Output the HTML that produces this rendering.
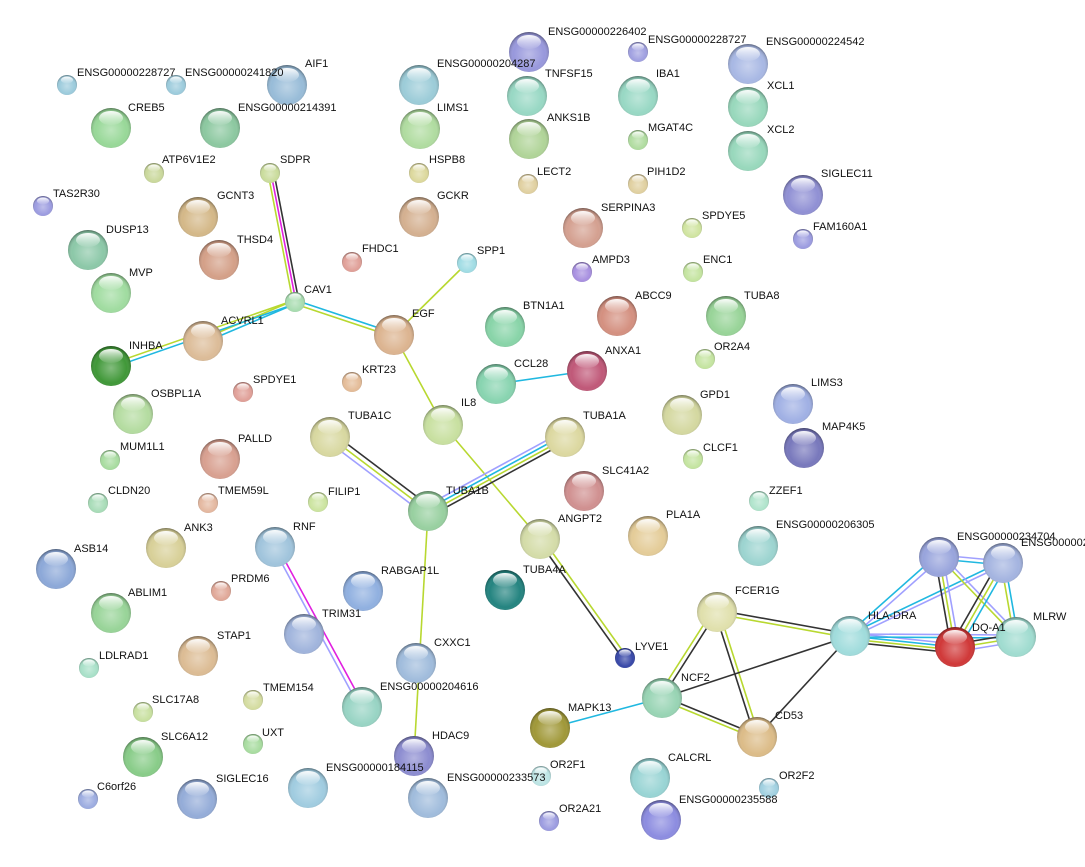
<!DOCTYPE html>
<html><head><meta charset="utf-8"><style>
html,body{margin:0;padding:0;background:#fff;}
svg{display:block;}
text{font-family:"Liberation Sans",sans-serif;font-size:11px;fill:#111;}
</style></head><body>
<svg width="1085" height="867" viewBox="0 0 1085 867" xmlns="http://www.w3.org/2000/svg">
<defs>
<radialGradient id="sh" cx="50%" cy="55%" r="55%">
<stop offset="0" stop-color="#fff" stop-opacity="0.35"/>
<stop offset="0.7" stop-color="#fff" stop-opacity="0"/>
<stop offset="0.9" stop-color="#000" stop-opacity="0.15"/>
<stop offset="1" stop-color="#000" stop-opacity="0.45"/>
</radialGradient>
<linearGradient id="gl" x1="0" y1="0" x2="0" y2="1">
<stop offset="0" stop-color="#fff" stop-opacity="0.95"/>
<stop offset="1" stop-color="#fff" stop-opacity="0.05"/>
</linearGradient>
</defs>
<g fill="none" stroke-width="1.6">
<!-- SDPR-CAV1 -->
<line x1="268" y1="173" x2="293" y2="302" stroke="#b8d830"/>
<line x1="271" y1="173" x2="296" y2="302" stroke="#e020e0"/>
<line x1="274" y1="173" x2="299" y2="302" stroke="#333"/>
<!-- CAV1-ACVRL1 -->
<line x1="295" y1="300" x2="203" y2="339" stroke="#b8d830"/>
<line x1="295" y1="304" x2="203" y2="343" stroke="#20b8e0"/>
<line x1="295" y1="300" x2="111" y2="364" stroke="#b8d830"/>
<line x1="295" y1="304" x2="111" y2="368" stroke="#20b8e0"/>
<!-- CAV1-EGF -->
<line x1="295" y1="300" x2="394" y2="333" stroke="#20b8e0"/>
<line x1="295" y1="304" x2="394" y2="337" stroke="#b8d830"/>
<!-- EGF-SPP1 -->
<line x1="394" y1="335" x2="467" y2="263" stroke="#b8d830"/>
<!-- EGF-IL8-ANGPT2 -->
<line x1="394" y1="335" x2="443" y2="425" stroke="#b8d830"/>
<line x1="443" y1="425" x2="540" y2="539" stroke="#b8d830"/>
<!-- CCL28-ANXA1 -->
<line x1="496" y1="384" x2="587" y2="371" stroke="#20b8e0"/>
<!-- TUBA1C-TUBA1B -->
<line x1="326" y1="440" x2="424" y2="514" stroke="#a0a0ff"/>
<line x1="330" y1="437" x2="428" y2="511" stroke="#b8d830"/>
<line x1="334" y1="434" x2="432" y2="508" stroke="#333"/>
<!-- TUBA1A-TUBA1B -->
<line x1="562" y1="432" x2="426" y2="506" stroke="#a0a0ff"/>
<line x1="564" y1="435" x2="428" y2="509" stroke="#20b8e0"/>
<line x1="566" y1="438" x2="430" y2="512" stroke="#b8d830"/>
<line x1="568" y1="441" x2="432" y2="515" stroke="#333"/>
<!-- TUBA1B-CXXC1-HDAC9 -->
<line x1="428" y1="511" x2="414" y2="756" stroke="#b8d830"/>
<!-- ANGPT2-LYVE1 -->
<line x1="538" y1="540" x2="623" y2="659" stroke="#333"/>
<line x1="542" y1="538" x2="627" y2="657" stroke="#b8d830"/>
<!-- RNF-TRIM31-ENSG204616 -->
<line x1="273" y1="547" x2="360" y2="708" stroke="#a0a0ff"/>
<line x1="277" y1="546" x2="364" y2="706" stroke="#e020e0"/>
<!-- FCER1G group -->
<line x1="717" y1="612" x2="662" y2="698" stroke="#333"/>
<line x1="713" y1="610" x2="658" y2="696" stroke="#b8d830"/>
<line x1="715" y1="612" x2="755" y2="737" stroke="#333"/>
<line x1="719" y1="611" x2="759" y2="736" stroke="#b8d830"/>
<line x1="717" y1="610" x2="850" y2="634" stroke="#333"/>
<line x1="717" y1="614" x2="850" y2="638" stroke="#b8d830"/>
<line x1="662" y1="698" x2="850" y2="636" stroke="#333"/>
<line x1="662" y1="696" x2="757" y2="735" stroke="#333"/>
<line x1="662" y1="700" x2="757" y2="739" stroke="#b8d830"/>
<line x1="550" y1="728" x2="662" y2="698" stroke="#20b8e0"/>
<line x1="757" y1="737" x2="850" y2="636" stroke="#333"/>
<!-- HLA cluster -->
<line x1="850" y1="633" x2="955" y2="644" stroke="#a0a0ff"/>
<line x1="850" y1="636" x2="955" y2="647" stroke="#20b8e0"/>
<line x1="850" y1="639" x2="955" y2="650" stroke="#b8d830"/>
<line x1="850" y1="642" x2="955" y2="653" stroke="#333"/>
<line x1="848" y1="634" x2="937" y2="555" stroke="#20b8e0"/>
<line x1="852" y1="637" x2="941" y2="558" stroke="#a0a0ff"/>
<line x1="850" y1="634" x2="1003" y2="561" stroke="#20b8e0"/>
<line x1="850" y1="638" x2="1003" y2="565" stroke="#a0a0ff"/>
<line x1="850" y1="634" x2="1016" y2="635" stroke="#a0a0ff"/>
<line x1="850" y1="637" x2="1016" y2="638" stroke="#20b8e0"/>
<line x1="935" y1="557" x2="951" y2="647" stroke="#333"/>
<line x1="939" y1="557" x2="955" y2="647" stroke="#b8d830"/>
<line x1="943" y1="557" x2="959" y2="647" stroke="#a0a0ff"/>
<line x1="939" y1="555" x2="1003" y2="561" stroke="#a0a0ff"/>
<line x1="939" y1="559" x2="1003" y2="565" stroke="#20b8e0"/>
<line x1="939" y1="557" x2="1016" y2="637" stroke="#b8d830"/>
<line x1="942" y1="555" x2="1019" y2="635" stroke="#a0a0ff"/>
<line x1="999" y1="561" x2="951" y2="645" stroke="#333"/>
<line x1="1003" y1="563" x2="955" y2="647" stroke="#b8d830"/>
<line x1="1007" y1="565" x2="959" y2="649" stroke="#20b8e0"/>
<line x1="1001" y1="563" x2="1014" y2="637" stroke="#b8d830"/>
<line x1="1005" y1="563" x2="1018" y2="637" stroke="#20b8e0"/>
<line x1="955" y1="644" x2="1016" y2="634" stroke="#333"/>
<line x1="955" y1="648" x2="1016" y2="638" stroke="#b8d830"/>
<line x1="955" y1="652" x2="1016" y2="642" stroke="#a0a0ff"/>
</g>
<g id="nodes">
<!-- helper pattern: colored circle, shade, gloss -->
<g><circle cx="67" cy="85" r="10" fill="#9ccbdc"/><circle cx="67" cy="85" r="10" fill="url(#sh)"/><ellipse cx="67" cy="80" rx="6" ry="3.5" fill="url(#gl)"/></g>
<g><circle cx="176" cy="85" r="10" fill="#9ccbdc"/><circle cx="176" cy="85" r="10" fill="url(#sh)"/><ellipse cx="176" cy="80" rx="6" ry="3.5" fill="url(#gl)"/></g>
<g><circle cx="287" cy="85" r="20" fill="#98bcd8"/><circle cx="287" cy="85" r="20" fill="url(#sh)"/><ellipse cx="287" cy="75" rx="12" ry="7" fill="url(#gl)"/></g>
<g><circle cx="111" cy="128" r="20" fill="#98d898"/><circle cx="111" cy="128" r="20" fill="url(#sh)"/><ellipse cx="111" cy="118" rx="12" ry="7" fill="url(#gl)"/></g>
<g><circle cx="220" cy="128" r="20" fill="#8cc8a0"/><circle cx="220" cy="128" r="20" fill="url(#sh)"/><ellipse cx="220" cy="118" rx="12" ry="7" fill="url(#gl)"/></g>
<g><circle cx="154" cy="173" r="10" fill="#cad89c"/><circle cx="154" cy="173" r="10" fill="url(#sh)"/><ellipse cx="154" cy="168" rx="6" ry="3.5" fill="url(#gl)"/></g>
<g><circle cx="270" cy="173" r="10" fill="#cadc9c"/><circle cx="270" cy="173" r="10" fill="url(#sh)"/><ellipse cx="270" cy="168" rx="6" ry="3.5" fill="url(#gl)"/></g>
<g><circle cx="43" cy="206" r="10" fill="#9c9ce0"/><circle cx="43" cy="206" r="10" fill="url(#sh)"/><ellipse cx="43" cy="201" rx="6" ry="3.5" fill="url(#gl)"/></g>
<g><circle cx="198" cy="217" r="20" fill="#d4b888"/><circle cx="198" cy="217" r="20" fill="url(#sh)"/><ellipse cx="198" cy="207" rx="12" ry="7" fill="url(#gl)"/></g>
<g><circle cx="219" cy="260" r="20" fill="#d4a088"/><circle cx="219" cy="260" r="20" fill="url(#sh)"/><ellipse cx="219" cy="250" rx="12" ry="7" fill="url(#gl)"/></g>
<g><circle cx="88" cy="250" r="20" fill="#8cc8a8"/><circle cx="88" cy="250" r="20" fill="url(#sh)"/><ellipse cx="88" cy="240" rx="12" ry="7" fill="url(#gl)"/></g>
<g><circle cx="111" cy="293" r="20" fill="#a0dca0"/><circle cx="111" cy="293" r="20" fill="url(#sh)"/><ellipse cx="111" cy="283" rx="12" ry="7" fill="url(#gl)"/></g>
<g><circle cx="352" cy="262" r="10" fill="#e0a098"/><circle cx="352" cy="262" r="10" fill="url(#sh)"/><ellipse cx="352" cy="257" rx="6" ry="3.5" fill="url(#gl)"/></g>
<g><circle cx="467" cy="263" r="10" fill="#a0dce4"/><circle cx="467" cy="263" r="10" fill="url(#sh)"/><ellipse cx="467" cy="258" rx="6" ry="3.5" fill="url(#gl)"/></g>
<g><circle cx="295" cy="302" r="10" fill="#a8dcb0"/><circle cx="295" cy="302" r="10" fill="url(#sh)"/><ellipse cx="295" cy="297" rx="6" ry="3.5" fill="url(#gl)"/></g>
<g><circle cx="203" cy="341" r="20" fill="#dcbc98"/><circle cx="203" cy="341" r="20" fill="url(#sh)"/><ellipse cx="203" cy="331" rx="12" ry="7" fill="url(#gl)"/></g>
<g><circle cx="394" cy="335" r="20" fill="#dcb490"/><circle cx="394" cy="335" r="20" fill="url(#sh)"/><ellipse cx="394" cy="325" rx="12" ry="7" fill="url(#gl)"/></g>
<g><circle cx="111" cy="366" r="20" fill="#409838"/><circle cx="111" cy="366" r="20" fill="url(#sh)"/><ellipse cx="111" cy="356" rx="12" ry="7" fill="url(#gl)"/></g>
<g><circle cx="243" cy="392" r="10" fill="#e0a098"/><circle cx="243" cy="392" r="10" fill="url(#sh)"/><ellipse cx="243" cy="387" rx="6" ry="3.5" fill="url(#gl)"/></g>
<g><circle cx="352" cy="382" r="10" fill="#e4bc98"/><circle cx="352" cy="382" r="10" fill="url(#sh)"/><ellipse cx="352" cy="377" rx="6" ry="3.5" fill="url(#gl)"/></g>
<g><circle cx="133" cy="414" r="20" fill="#b4dca0"/><circle cx="133" cy="414" r="20" fill="url(#sh)"/><ellipse cx="133" cy="404" rx="12" ry="7" fill="url(#gl)"/></g>
<g><circle cx="443" cy="425" r="20" fill="#c8e0a0"/><circle cx="443" cy="425" r="20" fill="url(#sh)"/><ellipse cx="443" cy="415" rx="12" ry="7" fill="url(#gl)"/></g>
<g><circle cx="330" cy="437" r="20" fill="#d8d8a0"/><circle cx="330" cy="437" r="20" fill="url(#sh)"/><ellipse cx="330" cy="427" rx="12" ry="7" fill="url(#gl)"/></g>
<g><circle cx="565" cy="437" r="20" fill="#dcd8a0"/><circle cx="565" cy="437" r="20" fill="url(#sh)"/><ellipse cx="565" cy="427" rx="12" ry="7" fill="url(#gl)"/></g>
<g><circle cx="110" cy="460" r="10" fill="#a8dca0"/><circle cx="110" cy="460" r="10" fill="url(#sh)"/><ellipse cx="110" cy="455" rx="6" ry="3.5" fill="url(#gl)"/></g>
<g><circle cx="220" cy="459" r="20" fill="#d8a090"/><circle cx="220" cy="459" r="20" fill="url(#sh)"/><ellipse cx="220" cy="449" rx="12" ry="7" fill="url(#gl)"/></g>
<g><circle cx="208" cy="503" r="10" fill="#e4b8a0"/><circle cx="208" cy="503" r="10" fill="url(#sh)"/><ellipse cx="208" cy="498" rx="6" ry="3.5" fill="url(#gl)"/></g>
<g><circle cx="318" cy="502" r="10" fill="#cce4a0"/><circle cx="318" cy="502" r="10" fill="url(#sh)"/><ellipse cx="318" cy="497" rx="6" ry="3.5" fill="url(#gl)"/></g>
<g><circle cx="428" cy="511" r="20" fill="#98d0a0"/><circle cx="428" cy="511" r="20" fill="url(#sh)"/><ellipse cx="428" cy="501" rx="12" ry="7" fill="url(#gl)"/></g>
<g><circle cx="98" cy="503" r="10" fill="#a8dcb8"/><circle cx="98" cy="503" r="10" fill="url(#sh)"/><ellipse cx="98" cy="498" rx="6" ry="3.5" fill="url(#gl)"/></g>
<g><circle cx="584" cy="491" r="20" fill="#d09090"/><circle cx="584" cy="491" r="20" fill="url(#sh)"/><ellipse cx="584" cy="481" rx="12" ry="7" fill="url(#gl)"/></g>
<g><circle cx="166" cy="548" r="20" fill="#d8d098"/><circle cx="166" cy="548" r="20" fill="url(#sh)"/><ellipse cx="166" cy="538" rx="12" ry="7" fill="url(#gl)"/></g>
<g><circle cx="275" cy="547" r="20" fill="#a0c4dc"/><circle cx="275" cy="547" r="20" fill="url(#sh)"/><ellipse cx="275" cy="537" rx="12" ry="7" fill="url(#gl)"/></g>
<g><circle cx="56" cy="569" r="20" fill="#8ca8d8"/><circle cx="56" cy="569" r="20" fill="url(#sh)"/><ellipse cx="56" cy="559" rx="12" ry="7" fill="url(#gl)"/></g>
<g><circle cx="221" cy="591" r="10" fill="#e0a898"/><circle cx="221" cy="591" r="10" fill="url(#sh)"/><ellipse cx="221" cy="586" rx="6" ry="3.5" fill="url(#gl)"/></g>
<g><circle cx="363" cy="591" r="20" fill="#90b0e0"/><circle cx="363" cy="591" r="20" fill="url(#sh)"/><ellipse cx="363" cy="581" rx="12" ry="7" fill="url(#gl)"/></g>
<g><circle cx="540" cy="539" r="20" fill="#d4dca8"/><circle cx="540" cy="539" r="20" fill="url(#sh)"/><ellipse cx="540" cy="529" rx="12" ry="7" fill="url(#gl)"/></g>
<g><circle cx="648" cy="536" r="20" fill="#e4cc98"/><circle cx="648" cy="536" r="20" fill="url(#sh)"/><ellipse cx="648" cy="526" rx="12" ry="7" fill="url(#gl)"/></g>
<g><circle cx="759" cy="501" r="10" fill="#b0e4cc"/><circle cx="759" cy="501" r="10" fill="url(#sh)"/><ellipse cx="759" cy="496" rx="6" ry="3.5" fill="url(#gl)"/></g>
<g><circle cx="758" cy="546" r="20" fill="#9cd4d0"/><circle cx="758" cy="546" r="20" fill="url(#sh)"/><ellipse cx="758" cy="536" rx="12" ry="7" fill="url(#gl)"/></g>
<g><circle cx="505" cy="590" r="20" fill="#248480"/><circle cx="505" cy="590" r="20" fill="url(#sh)"/><ellipse cx="505" cy="580" rx="12" ry="7" fill="url(#gl)"/></g>
<g><circle cx="111" cy="613" r="20" fill="#98d498"/><circle cx="111" cy="613" r="20" fill="url(#sh)"/><ellipse cx="111" cy="603" rx="12" ry="7" fill="url(#gl)"/></g>
<g><circle cx="304" cy="634" r="20" fill="#a0b4dc"/><circle cx="304" cy="634" r="20" fill="url(#sh)"/><ellipse cx="304" cy="624" rx="12" ry="7" fill="url(#gl)"/></g>
<g><circle cx="717" cy="612" r="20" fill="#e0e0ac"/><circle cx="717" cy="612" r="20" fill="url(#sh)"/><ellipse cx="717" cy="602" rx="12" ry="7" fill="url(#gl)"/></g>
<g><circle cx="939" cy="557" r="20" fill="#98a4dc"/><circle cx="939" cy="557" r="20" fill="url(#sh)"/><ellipse cx="939" cy="547" rx="12" ry="7" fill="url(#gl)"/></g>
<g><circle cx="1003" cy="563" r="20" fill="#a4b4e0"/><circle cx="1003" cy="563" r="20" fill="url(#sh)"/><ellipse cx="1003" cy="553" rx="12" ry="7" fill="url(#gl)"/></g>
<g><circle cx="850" cy="636" r="20" fill="#a0dcdc"/><circle cx="850" cy="636" r="20" fill="url(#sh)"/><ellipse cx="850" cy="626" rx="12" ry="7" fill="url(#gl)"/></g>
<g><circle cx="955" cy="647" r="20" fill="#d03838"/><circle cx="955" cy="647" r="20" fill="url(#sh)"/><ellipse cx="955" cy="637" rx="12" ry="7" fill="url(#gl)"/></g>
<g><circle cx="1016" cy="637" r="20" fill="#a0dcd0"/><circle cx="1016" cy="637" r="20" fill="url(#sh)"/><ellipse cx="1016" cy="627" rx="12" ry="7" fill="url(#gl)"/></g>
<g><circle cx="89" cy="668" r="10" fill="#a8e0c8"/><circle cx="89" cy="668" r="10" fill="url(#sh)"/><ellipse cx="89" cy="663" rx="6" ry="3.5" fill="url(#gl)"/></g>
<g><circle cx="198" cy="656" r="20" fill="#dcbc94"/><circle cx="198" cy="656" r="20" fill="url(#sh)"/><ellipse cx="198" cy="646" rx="12" ry="7" fill="url(#gl)"/></g>
<g><circle cx="625" cy="658" r="10" fill="#3848a8"/><circle cx="625" cy="658" r="10" fill="url(#sh)"/><ellipse cx="625" cy="653" rx="6" ry="3.5" fill="url(#gl)"/></g>
<g><circle cx="416" cy="663" r="20" fill="#a0bcdc"/><circle cx="416" cy="663" r="20" fill="url(#sh)"/><ellipse cx="416" cy="653" rx="12" ry="7" fill="url(#gl)"/></g>
<g><circle cx="253" cy="700" r="10" fill="#d4dca0"/><circle cx="253" cy="700" r="10" fill="url(#sh)"/><ellipse cx="253" cy="695" rx="6" ry="3.5" fill="url(#gl)"/></g>
<g><circle cx="143" cy="712" r="10" fill="#c8e0a0"/><circle cx="143" cy="712" r="10" fill="url(#sh)"/><ellipse cx="143" cy="707" rx="6" ry="3.5" fill="url(#gl)"/></g>
<g><circle cx="362" cy="707" r="20" fill="#98d4c4"/><circle cx="362" cy="707" r="20" fill="url(#sh)"/><ellipse cx="362" cy="697" rx="12" ry="7" fill="url(#gl)"/></g>
<g><circle cx="662" cy="698" r="20" fill="#98d4b4"/><circle cx="662" cy="698" r="20" fill="url(#sh)"/><ellipse cx="662" cy="688" rx="12" ry="7" fill="url(#gl)"/></g>
<g><circle cx="550" cy="728" r="20" fill="#a09838"/><circle cx="550" cy="728" r="20" fill="url(#sh)"/><ellipse cx="550" cy="718" rx="12" ry="7" fill="url(#gl)"/></g>
<g><circle cx="757" cy="737" r="20" fill="#dcbc88"/><circle cx="757" cy="737" r="20" fill="url(#sh)"/><ellipse cx="757" cy="727" rx="12" ry="7" fill="url(#gl)"/></g>
<g><circle cx="253" cy="744" r="10" fill="#a8dca0"/><circle cx="253" cy="744" r="10" fill="url(#sh)"/><ellipse cx="253" cy="739" rx="6" ry="3.5" fill="url(#gl)"/></g>
<g><circle cx="143" cy="757" r="20" fill="#88cc88"/><circle cx="143" cy="757" r="20" fill="url(#sh)"/><ellipse cx="143" cy="747" rx="12" ry="7" fill="url(#gl)"/></g>
<g><circle cx="414" cy="756" r="20" fill="#8c8cd0"/><circle cx="414" cy="756" r="20" fill="url(#sh)"/><ellipse cx="414" cy="746" rx="12" ry="7" fill="url(#gl)"/></g>
<g><circle cx="308" cy="788" r="20" fill="#a0cce0"/><circle cx="308" cy="788" r="20" fill="url(#sh)"/><ellipse cx="308" cy="778" rx="12" ry="7" fill="url(#gl)"/></g>
<g><circle cx="428" cy="798" r="20" fill="#a0bcdc"/><circle cx="428" cy="798" r="20" fill="url(#sh)"/><ellipse cx="428" cy="788" rx="12" ry="7" fill="url(#gl)"/></g>
<g><circle cx="197" cy="799" r="20" fill="#94acd8"/><circle cx="197" cy="799" r="20" fill="url(#sh)"/><ellipse cx="197" cy="789" rx="12" ry="7" fill="url(#gl)"/></g>
<g><circle cx="88" cy="799" r="10" fill="#9cace0"/><circle cx="88" cy="799" r="10" fill="url(#sh)"/><ellipse cx="88" cy="794" rx="6" ry="3.5" fill="url(#gl)"/></g>
<g><circle cx="541" cy="776" r="10" fill="#bce4e4"/><circle cx="541" cy="776" r="10" fill="url(#sh)"/><ellipse cx="541" cy="771" rx="6" ry="3.5" fill="url(#gl)"/></g>
<g><circle cx="650" cy="778" r="20" fill="#98d4d4"/><circle cx="650" cy="778" r="20" fill="url(#sh)"/><ellipse cx="650" cy="768" rx="12" ry="7" fill="url(#gl)"/></g>
<g><circle cx="769" cy="788" r="10" fill="#a0d0e0"/><circle cx="769" cy="788" r="10" fill="url(#sh)"/><ellipse cx="769" cy="783" rx="6" ry="3.5" fill="url(#gl)"/></g>
<g><circle cx="661" cy="820" r="20" fill="#8c8ce0"/><circle cx="661" cy="820" r="20" fill="url(#sh)"/><ellipse cx="661" cy="810" rx="12" ry="7" fill="url(#gl)"/></g>
<g><circle cx="549" cy="821" r="10" fill="#9c9ce0"/><circle cx="549" cy="821" r="10" fill="url(#sh)"/><ellipse cx="549" cy="816" rx="6" ry="3.5" fill="url(#gl)"/></g>
<g><circle cx="419" cy="85" r="20" fill="#9cccd8"/><circle cx="419" cy="85" r="20" fill="url(#sh)"/><ellipse cx="419" cy="75" rx="12" ry="7" fill="url(#gl)"/></g>
<g><circle cx="529" cy="52" r="20" fill="#9898dc"/><circle cx="529" cy="52" r="20" fill="url(#sh)"/><ellipse cx="529" cy="42" rx="12" ry="7" fill="url(#gl)"/></g>
<g><circle cx="638" cy="52" r="10" fill="#a0a0e0"/><circle cx="638" cy="52" r="10" fill="url(#sh)"/><ellipse cx="638" cy="47" rx="6" ry="3.5" fill="url(#gl)"/></g>
<g><circle cx="748" cy="64" r="20" fill="#a8b8e4"/><circle cx="748" cy="64" r="20" fill="url(#sh)"/><ellipse cx="748" cy="54" rx="12" ry="7" fill="url(#gl)"/></g>
<g><circle cx="527" cy="96" r="20" fill="#98d8c4"/><circle cx="527" cy="96" r="20" fill="url(#sh)"/><ellipse cx="527" cy="86" rx="12" ry="7" fill="url(#gl)"/></g>
<g><circle cx="638" cy="96" r="20" fill="#98d8c4"/><circle cx="638" cy="96" r="20" fill="url(#sh)"/><ellipse cx="638" cy="86" rx="12" ry="7" fill="url(#gl)"/></g>
<g><circle cx="748" cy="107" r="20" fill="#98d8bc"/><circle cx="748" cy="107" r="20" fill="url(#sh)"/><ellipse cx="748" cy="97" rx="12" ry="7" fill="url(#gl)"/></g>
<g><circle cx="420" cy="129" r="20" fill="#b0dca0"/><circle cx="420" cy="129" r="20" fill="url(#sh)"/><ellipse cx="420" cy="119" rx="12" ry="7" fill="url(#gl)"/></g>
<g><circle cx="529" cy="139" r="20" fill="#b0d498"/><circle cx="529" cy="139" r="20" fill="url(#sh)"/><ellipse cx="529" cy="129" rx="12" ry="7" fill="url(#gl)"/></g>
<g><circle cx="638" cy="140" r="10" fill="#b0dca0"/><circle cx="638" cy="140" r="10" fill="url(#sh)"/><ellipse cx="638" cy="135" rx="6" ry="3.5" fill="url(#gl)"/></g>
<g><circle cx="748" cy="151" r="20" fill="#98d8bc"/><circle cx="748" cy="151" r="20" fill="url(#sh)"/><ellipse cx="748" cy="141" rx="12" ry="7" fill="url(#gl)"/></g>
<g><circle cx="419" cy="173" r="10" fill="#dcd89c"/><circle cx="419" cy="173" r="10" fill="url(#sh)"/><ellipse cx="419" cy="168" rx="6" ry="3.5" fill="url(#gl)"/></g>
<g><circle cx="528" cy="184" r="10" fill="#e0d0a0"/><circle cx="528" cy="184" r="10" fill="url(#sh)"/><ellipse cx="528" cy="179" rx="6" ry="3.5" fill="url(#gl)"/></g>
<g><circle cx="638" cy="184" r="10" fill="#e0d0a0"/><circle cx="638" cy="184" r="10" fill="url(#sh)"/><ellipse cx="638" cy="179" rx="6" ry="3.5" fill="url(#gl)"/></g>
<g><circle cx="803" cy="195" r="20" fill="#9090d4"/><circle cx="803" cy="195" r="20" fill="url(#sh)"/><ellipse cx="803" cy="185" rx="12" ry="7" fill="url(#gl)"/></g>
<g><circle cx="419" cy="217" r="20" fill="#d4b090"/><circle cx="419" cy="217" r="20" fill="url(#sh)"/><ellipse cx="419" cy="207" rx="12" ry="7" fill="url(#gl)"/></g>
<g><circle cx="583" cy="228" r="20" fill="#d4a090"/><circle cx="583" cy="228" r="20" fill="url(#sh)"/><ellipse cx="583" cy="218" rx="12" ry="7" fill="url(#gl)"/></g>
<g><circle cx="692" cy="228" r="10" fill="#d0e4a0"/><circle cx="692" cy="228" r="10" fill="url(#sh)"/><ellipse cx="692" cy="223" rx="6" ry="3.5" fill="url(#gl)"/></g>
<g><circle cx="803" cy="239" r="10" fill="#9c9ce0"/><circle cx="803" cy="239" r="10" fill="url(#sh)"/><ellipse cx="803" cy="234" rx="6" ry="3.5" fill="url(#gl)"/></g>
<g><circle cx="582" cy="272" r="10" fill="#a890e0"/><circle cx="582" cy="272" r="10" fill="url(#sh)"/><ellipse cx="582" cy="267" rx="6" ry="3.5" fill="url(#gl)"/></g>
<g><circle cx="693" cy="272" r="10" fill="#c4e4a0"/><circle cx="693" cy="272" r="10" fill="url(#sh)"/><ellipse cx="693" cy="267" rx="6" ry="3.5" fill="url(#gl)"/></g>
<g><circle cx="505" cy="327" r="20" fill="#88d4a8"/><circle cx="505" cy="327" r="20" fill="url(#sh)"/><ellipse cx="505" cy="317" rx="12" ry="7" fill="url(#gl)"/></g>
<g><circle cx="617" cy="316" r="20" fill="#d49080"/><circle cx="617" cy="316" r="20" fill="url(#sh)"/><ellipse cx="617" cy="306" rx="12" ry="7" fill="url(#gl)"/></g>
<g><circle cx="726" cy="316" r="20" fill="#98d498"/><circle cx="726" cy="316" r="20" fill="url(#sh)"/><ellipse cx="726" cy="306" rx="12" ry="7" fill="url(#gl)"/></g>
<g><circle cx="705" cy="359" r="10" fill="#c4e4a0"/><circle cx="705" cy="359" r="10" fill="url(#sh)"/><ellipse cx="705" cy="354" rx="6" ry="3.5" fill="url(#gl)"/></g>
<g><circle cx="496" cy="384" r="20" fill="#88d4b0"/><circle cx="496" cy="384" r="20" fill="url(#sh)"/><ellipse cx="496" cy="374" rx="12" ry="7" fill="url(#gl)"/></g>
<g><circle cx="587" cy="371" r="20" fill="#c05878"/><circle cx="587" cy="371" r="20" fill="url(#sh)"/><ellipse cx="587" cy="361" rx="12" ry="7" fill="url(#gl)"/></g>
<g><circle cx="793" cy="404" r="20" fill="#a0b0e4"/><circle cx="793" cy="404" r="20" fill="url(#sh)"/><ellipse cx="793" cy="394" rx="12" ry="7" fill="url(#gl)"/></g>
<g><circle cx="682" cy="415" r="20" fill="#d4d8a0"/><circle cx="682" cy="415" r="20" fill="url(#sh)"/><ellipse cx="682" cy="405" rx="12" ry="7" fill="url(#gl)"/></g>
<g><circle cx="804" cy="448" r="20" fill="#7878bc"/><circle cx="804" cy="448" r="20" fill="url(#sh)"/><ellipse cx="804" cy="438" rx="12" ry="7" fill="url(#gl)"/></g>
<g><circle cx="693" cy="459" r="10" fill="#c4e4a0"/><circle cx="693" cy="459" r="10" fill="url(#sh)"/><ellipse cx="693" cy="454" rx="6" ry="3.5" fill="url(#gl)"/></g>
</g>
<g>
<text x="77" y="76">ENSG00000228727</text>
<text x="185" y="76">ENSG00000241820</text>
<text x="305" y="67">AIF1</text>
<text x="128" y="111">CREB5</text>
<text x="238" y="111">ENSG00000214391</text>
<text x="162" y="163">ATP6V1E2</text>
<text x="280" y="163">SDPR</text>
<text x="53" y="197">TAS2R30</text>
<text x="217" y="199">GCNT3</text>
<text x="237" y="243">THSD4</text>
<text x="106" y="233">DUSP13</text>
<text x="129" y="276">MVP</text>
<text x="362" y="252">FHDC1</text>
<text x="477" y="254">SPP1</text>
<text x="304" y="293">CAV1</text>
<text x="221" y="324">ACVRL1</text>
<text x="412" y="317">EGF</text>
<text x="129" y="349">INHBA</text>
<text x="253" y="383">SPDYE1</text>
<text x="362" y="373">KRT23</text>
<text x="151" y="397">OSBPL1A</text>
<text x="461" y="406">IL8</text>
<text x="348" y="419">TUBA1C</text>
<text x="583" y="419">TUBA1A</text>
<text x="120" y="450">MUM1L1</text>
<text x="238" y="442">PALLD</text>
<text x="218" y="494">TMEM59L</text>
<text x="328" y="495">FILIP1</text>
<text x="446" y="494">TUBA1B</text>
<text x="108" y="494">CLDN20</text>
<text x="602" y="474">SLC41A2</text>
<text x="184" y="531">ANK3</text>
<text x="293" y="530">RNF</text>
<text x="74" y="552">ASB14</text>
<text x="231" y="582">PRDM6</text>
<text x="381" y="574">RABGAP1L</text>
<text x="558" y="522">ANGPT2</text>
<text x="666" y="518">PLA1A</text>
<text x="769" y="494">ZZEF1</text>
<text x="776" y="528">ENSG00000206305</text>
<text x="523" y="573">TUBA4A</text>
<text x="128" y="596">ABLIM1</text>
<text x="322" y="617">TRIM31</text>
<text x="735" y="594">FCER1G</text>
<text x="957" y="540">ENSG00000234704</text>
<text x="1021" y="546">ENSG000002</text>
<text x="868" y="619">HLA-DRA</text>
<text x="972" y="631">DQ-A1</text>
<text x="1033" y="620">MLRW</text>
<text x="99" y="659">LDLRAD1</text>
<text x="217" y="639">STAP1</text>
<text x="635" y="650">LYVE1</text>
<text x="434" y="646">CXXC1</text>
<text x="263" y="691">TMEM154</text>
<text x="152" y="703">SLC17A8</text>
<text x="380" y="690">ENSG00000204616</text>
<text x="681" y="681">NCF2</text>
<text x="568" y="711">MAPK13</text>
<text x="775" y="719">CD53</text>
<text x="262" y="736">UXT</text>
<text x="161" y="740">SLC6A12</text>
<text x="432" y="739">HDAC9</text>
<text x="326" y="771">ENSG00000184115</text>
<text x="447" y="781">ENSG00000233573</text>
<text x="216" y="782">SIGLEC16</text>
<text x="97" y="790">C6orf26</text>
<text x="550" y="768">OR2F1</text>
<text x="668" y="761">CALCRL</text>
<text x="779" y="779">OR2F2</text>
<text x="679" y="803">ENSG00000235588</text>
<text x="559" y="812">OR2A21</text>
<text x="437" y="67">ENSG00000204287</text>
<text x="548" y="35">ENSG00000226402</text>
<text x="648" y="43">ENSG00000228727</text>
<text x="766" y="45">ENSG00000224542</text>
<text x="545" y="77">TNFSF15</text>
<text x="656" y="77">IBA1</text>
<text x="767" y="89">XCL1</text>
<text x="437" y="111">LIMS1</text>
<text x="547" y="121">ANKS1B</text>
<text x="648" y="131">MGAT4C</text>
<text x="767" y="133">XCL2</text>
<text x="429" y="163">HSPB8</text>
<text x="537" y="175">LECT2</text>
<text x="647" y="175">PIH1D2</text>
<text x="821" y="177">SIGLEC11</text>
<text x="437" y="199">GCKR</text>
<text x="601" y="211">SERPINA3</text>
<text x="702" y="219">SPDYE5</text>
<text x="813" y="230">FAM160A1</text>
<text x="592" y="263">AMPD3</text>
<text x="703" y="263">ENC1</text>
<text x="523" y="309">BTN1A1</text>
<text x="635" y="299">ABCC9</text>
<text x="744" y="299">TUBA8</text>
<text x="714" y="350">OR2A4</text>
<text x="514" y="367">CCL28</text>
<text x="605" y="354">ANXA1</text>
<text x="811" y="386">LIMS3</text>
<text x="700" y="398">GPD1</text>
<text x="822" y="430">MAP4K5</text>
<text x="703" y="451">CLCF1</text>
</g>
</svg>
</body></html>
